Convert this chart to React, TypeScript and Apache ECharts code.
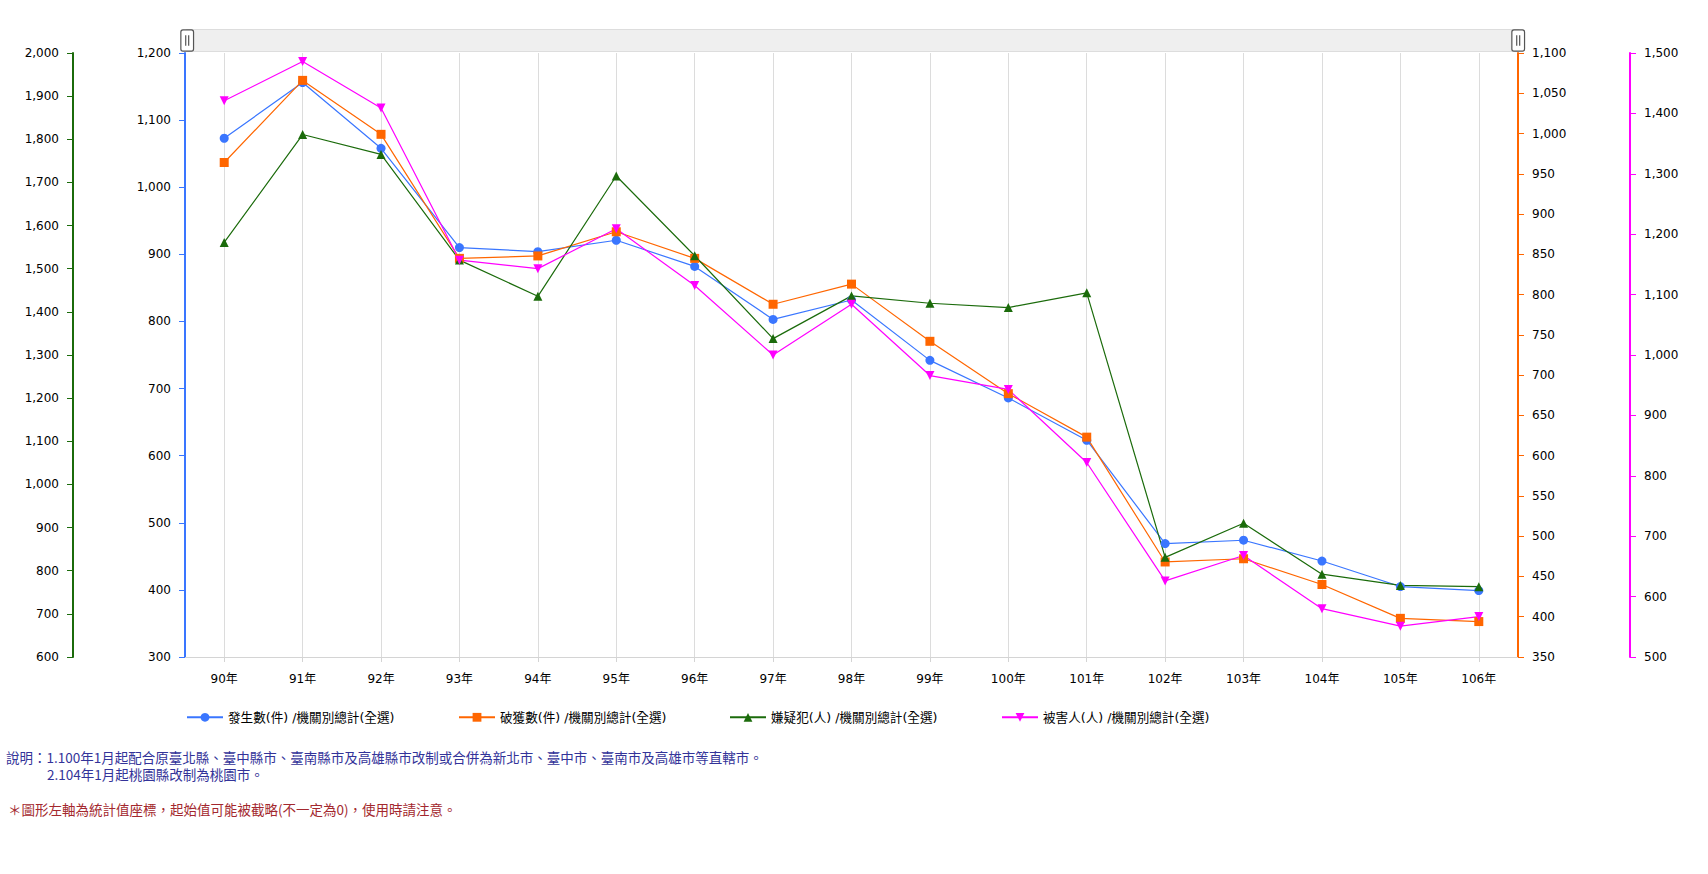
import React, { useEffect, useRef } from 'react';
import * as echarts from 'echarts';

const categories = ['90年', '91年', '92年', '93年', '94年', '95年', '96年', '97年', '98年', '99年', '100年', '101年', '102年', '103年', '104年', '105年', '106年'];
const seriesNames = [
  '發生數(件) /機關別總計(全選)',
  '破獲數(件) /機關別總計(全選)',
  '嫌疑犯(人) /機關別總計(全選)',
  '被害人(人) /機關別總計(全選)',
];
const occurrences = [1073, 1156, 1058, 910, 904, 921, 882, 803, 832, 742, 686, 623, 469, 474, 443, 405, 399];
const cleared = [964, 1066, 999, 845, 848, 878, 845, 788, 813, 742, 677, 623, 468, 472, 440, 398, 394];
const suspects = [1561, 1811, 1765, 1520, 1436, 1715, 1530, 1338, 1437, 1420, 1410, 1444, 831, 910, 792, 766, 763];
const victims = [1421, 1486, 1409, 1157, 1143, 1209, 1115, 1000, 1084, 966, 943, 822, 626, 668, 580, 551, 567];

const noteLines = [
  '說明：1.100年1月起配合原臺北縣、臺中縣市、臺南縣市及高雄縣市改制或合併為新北市、臺中市、臺南市及高雄市等直轄市。',
  '2.104年1月起桃園縣改制為桃園市。',
  '＊圖形左軸為統計值座標，起始值可能被截略(不一定為0)，使用時請注意。',
];

const FONT = "'DejaVu Sans', 'Noto Sans CJK TC', sans-serif";
const CJK = "'Noto Sans CJK TC', 'DejaVu Sans', sans-serif";
const BLUE = '#3a76ff';
const GREEN = '#1b6b0b';
const ORANGE = '#ff6600';
const MAGENTA = '#ff00ff';

function yAxis(color: string, position: string, offset: number, min: number, max: number, interval: number) {
  return {
    type: 'value',
    position,
    offset,
    min,
    max,
    interval,
    axisLine: { show: true, lineStyle: { color, width: 2 } },
    axisTick: { show: true, length: 6, lineStyle: { color, width: 1 } },
    axisLabel: { color: '#000', fontSize: 12, fontFamily: FONT, margin: 14 },
    splitLine: { show: false },
  };
}

export default function App() {
  const ref = useRef<HTMLDivElement>(null);
  useEffect(() => {
    document.body.style.margin = '0';
    const chart = echarts.init(ref.current!, undefined, { renderer: 'svg' });
    const legendLefts = [186, 458, 729, 1001];
    const colors = [BLUE, ORANGE, GREEN, MAGENTA];
    const option: any = {
      animation: false,
      textStyle: { fontFamily: FONT },
      grid: { left: 185, right: 190, top: 53, bottom: 217 },
      legend: seriesNames.map((n, i) => ({
        data: [n],
        left: legendLefts[i],
        top: 711,
        padding: 0,
        itemWidth: 36,
        itemHeight: 11,
        textStyle: { color: '#000', fontSize: 12.6, fontFamily: FONT },
      })),
      dataZoom: [
        {
          type: 'slider',
          xAxisIndex: 0,
          top: 29,
          height: 23,
          left: 185,
          right: 190,
          showDetail: false,
          showDataShadow: false,
          brushSelect: false,
          moveHandleSize: 0,
          backgroundColor: '#f0f0f0',
          fillerColor: 'rgba(239,239,239,1)',
          borderColor: '#dddddd',
          borderRadius: 0,
          handleIcon: 'path://M2,0h8a2,2,0,0,1,2,2v16a2,2,0,0,1-2,2h-8a2,2,0,0,1-2-2v-16a2,2,0,0,1,2-2zM4.6,5v10M7.4,5v10',
          handleSize: '92%',
          handleStyle: { color: '#ffffff', borderColor: '#555555', borderWidth: 1.2 },
        },
      ],
      xAxis: {
        type: 'category',
        data: categories,
        boundaryGap: true,
        axisLine: { show: true, lineStyle: { color: '#d4d4d4', width: 1 } },
        axisTick: { show: true, alignWithLabel: true, length: 5, lineStyle: { color: '#d4d4d4' } },
        splitLine: { show: true, alignWithLabel: true, lineStyle: { color: '#dcdcdc', width: 1 } },
        axisLabel: { color: '#000', fontSize: 12, fontFamily: FONT, margin: 16, interval: 0 },
      },
      yAxis: [
        yAxis(BLUE, 'left', 0, 300, 1200, 100),
        yAxis(GREEN, 'left', 112, 600, 2000, 100),
        yAxis(ORANGE, 'right', 0, 350, 1100, 50),
        yAxis(MAGENTA, 'right', 112, 500, 1500, 100),
      ],
      series: [
        {
          name: seriesNames[0], type: 'line', yAxisIndex: 0, data: occurrences,
          symbol: 'circle', symbolSize: 9,
          lineStyle: { color: colors[0], width: 1.2 }, itemStyle: { color: colors[0] },
        },
        {
          name: seriesNames[1], type: 'line', yAxisIndex: 2, data: cleared,
          symbol: 'rect', symbolSize: 9,
          lineStyle: { color: colors[1], width: 1.2 }, itemStyle: { color: colors[1] },
        },
        {
          name: seriesNames[2], type: 'line', yAxisIndex: 1, data: suspects,
          symbol: 'triangle', symbolSize: 9,
          lineStyle: { color: colors[2], width: 1.2 }, itemStyle: { color: colors[2] },
        },
        {
          name: seriesNames[3], type: 'line', yAxisIndex: 3, data: victims,
          symbol: 'triangle', symbolRotate: 180, symbolSize: 9,
          lineStyle: { color: colors[3], width: 1.2 }, itemStyle: { color: colors[3] },
        },
      ],
      graphic: [
        { type: 'text', left: 6, top: 750, style: { text: noteLines[0], fill: '#333399', font: `13.5px ${CJK}` } },
        { type: 'text', left: 47, top: 767, style: { text: noteLines[1], fill: '#333399', font: `13.5px ${CJK}` } },
        { type: 'text', left: 8, top: 802, style: { text: noteLines[2], fill: '#a3282e', font: `13.5px ${CJK}` } },
      ],
    };
    chart.setOption(option);
    return () => chart.dispose();
  }, []);
  return <div ref={ref} style={{ width: 1708, height: 874 }} />;
}
